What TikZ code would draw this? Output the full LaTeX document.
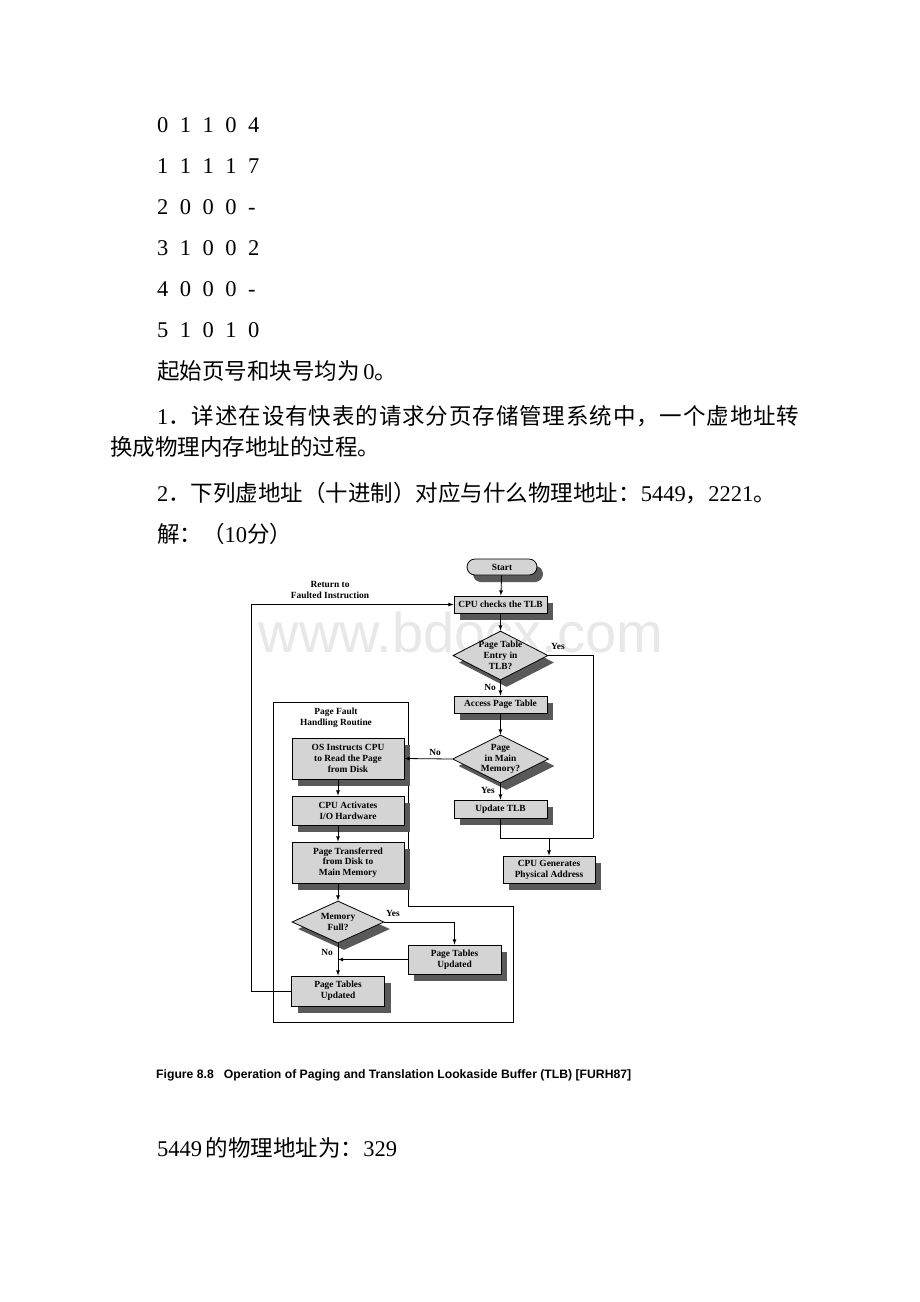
\documentclass[tikz,border=0pt]{standalone}
\usepackage{fontspec}
\setmainfont{Liberation Serif}
\newfontfamily\cjk{Noto Sans CJK SC}
\newfontfamily\cjkwide[LetterSpace=4]{Noto Sans CJK SC}
\newfontfamily\sansfont{Liberation Sans}
\usetikzlibrary{shapes.geometric,shadows}
\newcommand\bodysize{\fontsize{22.5}{27}\selectfont}
\newcommand\boxfont{\bfseries\fontsize{9.4}{10.8}\selectfont}
\newcommand\capfont{\sansfont\bfseries\fontsize{12.2}{14}\selectfont}
\newcommand\row[5]{#1\hspace{11.5pt}#2\hspace{11.5pt}#3\hspace{11.5pt}#4\hspace{11.5pt}#5}
\tikzstyle{body} = [anchor=base west, inner sep=0pt, font=\bodysize]
\tikzstyle{dropit} = [drop shadow={shadow xshift=6pt, shadow yshift=-7pt, fill=black!65, opacity=1}]
\tikzstyle{proc} = [draw, line width=0.8pt, fill=black!17, dropit, align=center, font=\boxfont, inner sep=0pt, minimum width=93pt, minimum height=17pt]
\tikzstyle{bigproc} = [proc, minimum width=112pt]
\tikzstyle{term} = [proc, rounded corners=8pt, minimum width=70pt, minimum height=16pt]
\tikzstyle{decide} = [draw, diamond, line width=0.8pt, fill=black!17, dropit, inner sep=0pt]
\tikzstyle{dtext} = [align=center, font=\boxfont, inner sep=0pt]
\tikzstyle{tag} = [font=\boxfont, inner sep=0pt]
\tikzstyle{flow} = [line width=0.8pt]

\begin{document}
\begin{tikzpicture}[x=1pt, y=1pt, >=latex]
  \fill[white] (0,0) rectangle (920,-1302);
  \useasboundingbox (0,0) rectangle (920,-1302);
  \node[anchor=base, inner sep=0pt, text=black!9, font=\sansfont\fontsize{56}{60}\selectfont] (mark) at (461,-652) {www.bdocx.com};

  % the page text
  \node[body] (r0) at (157,-132) {\row 01104};
  \node[body] (r1) at (157,-173) {\row 11117};
  \node[body] (r2) at (157,-214) {\row 2000-};
  \node[body] (r3) at (157,-255) {\row 31002};
  \node[body] (r4) at (157,-296) {\row 4000-};
  \node[body] (r5) at (157,-337) {\row 51010};
  \node[body] (note) at (157,-379) {{\cjk 起始页号和块号均为}\,0{\cjk 。}};
  \node[body] (q1a) at (157,-424) {1{\cjkwide ．详述在设有快表的请求分页存储管理系统中，一个虚地址转}};
  \node[body] (q1b) at (110,-455) {{\cjk 换成物理内存地址的过程。}};
  \node[body] (q2) at (157,-501) {2{\cjk ．下列虚地址（十进制）对应与什么物理地址：}5449{\cjk ，}2221{\cjk 。}};
  \node[body] (ans) at (157,-542) {{\cjk 解：（}10{\cjk 分）}};
  \node[body] (res) at (157,-1156) {5449\,{\cjk 的物理地址为：}329};

  % the figure
  \draw[flow] (273,-702) -- (408,-702) -- (408,-906) -- (513,-906) -- (513,-1022) -- (273,-1022) -- cycle;
  \node[dtext] (pfh) at (336,-718) {Page Fault\\Handling Routine};
  \node[dtext] (ret) at (330,-590) {Return to\\Faulted Instruction};

  \node[term] (start) at (502,-567) {Start};
  \node[proc] (tlb) at (500.5,-604.5) {CPU checks the TLB};
  \node[decide, minimum width=95pt, minimum height=49pt, label={[dtext]center:Page Table\\Entry in\\TLB?}] (intlb) at (500.5,-655.5) {};
  \node[proc] (access) at (500.5,-704.5) {Access Page Table};
  \node[decide, minimum width=96pt, minimum height=48pt, label={[dtext]center:Page\\in Main\\Memory?}] (inmem) at (500.5,-759) {};
  \node[proc, minimum height=18pt] (update) at (500.5,-809) {Update TLB};
  \node[proc, minimum width=92pt, minimum height=27pt] (genaddr) at (549,-869.5) {CPU Generates\\Physical Address};

  \node[bigproc, minimum height=41pt] (osread) at (348,-758.5) {OS Instructs CPU\\to Read the Page\\from Disk};
  \node[bigproc, minimum height=29pt] (ioact) at (348,-810.5) {CPU Activates\\I/O Hardware};
  \node[bigproc, minimum height=41pt] (transfer) at (348,-862.5) {Page Transferred\\from Disk to\\Main Memory};
  \node[decide, minimum width=92pt, minimum height=42pt, label={[dtext]center:Memory\\Full?}] (memfull) at (338,-922) {};
  \node[proc, minimum height=29pt] (ptupd2) at (454.5,-959.5) {Page Tables\\Updated};
  \node[proc, minimum height=30pt] (ptupd1) at (338,-991) {Page Tables\\Updated};

  \coordinate (rt) at (593,-838);
  \coordinate (join) at (549,-838);
  \coordinate (bend) at (251,-604.5);

  \draw[flow,->] (start) -- (tlb);
  \draw[flow,->] (tlb) -- (intlb);
  \draw[flow,->] (intlb) -- (access);
  \node[tag] (no1) at (490,-687) {No};
  \draw[flow] (intlb.east) -| (rt);
  \node[tag] (yes1) at (558,-646) {Yes};
  \draw[flow,->] (access) -- (inmem);
  \draw[flow,->] (inmem.west) -- (osread.east);
  \node[tag] (no2) at (435,-752) {No};
  \draw[flow,->] (inmem) -- (update);
  \node[tag] (yes2) at (488,-790) {Yes};
  \draw[flow] (update.south) |- (rt);
  \draw[flow,->] (join) -- (genaddr);

  \draw[flow,->] (osread.south -| memfull) -- (ioact.north -| memfull);
  \draw[flow,->] (ioact.south -| memfull) -- (transfer.north -| memfull);
  \draw[flow,->] (transfer.south -| memfull) -- (memfull.north);
  \draw[flow,->] (memfull.east) -| (ptupd2.north);
  \node[tag] (yes3) at (393,-913) {Yes};
  \draw[flow,->] (memfull.south) -- (ptupd1.north);
  \node[tag] (no3) at (327,-952) {No};
  \draw[flow,->] (ptupd2.west) -- (memfull.south |- ptupd2.west);
  \draw[flow,->] (ptupd1.west) -| (bend) -- (tlb.west);

  \node[anchor=base west, inner sep=0pt, font=\capfont] (cap) at (156,-1078) {Figure 8.8\hspace{10pt}Operation of Paging and Translation Lookaside Buffer (TLB) [FURH87]};
\end{tikzpicture}
\end{document}
